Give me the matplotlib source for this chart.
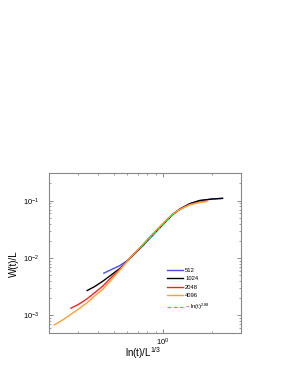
import matplotlib
matplotlib.use("Agg")
import matplotlib.pyplot as plt

plt.rcParams['font.family'] = ['Liberation Sans', 'DejaVu Sans']
plt.rcParams['mathtext.fontset'] = 'custom'
plt.rcParams['mathtext.rm'] = 'Liberation Sans'
plt.rcParams['mathtext.it'] = 'Liberation Sans'

# data (x = ln(t)/L^(1/3), y = W(t)/L)
x512 = [0.432, 0.48, 0.542, 0.6, 0.654, 0.754, 0.829, 0.92, 1.049, 1.15, 1.266, 1.459, 1.68, 2.0, 2.32]
y512 = [0.00547, 0.0063, 0.0074, 0.009, 0.0113, 0.0166, 0.022, 0.030, 0.0443, 0.0575, 0.0705, 0.088, 0.1, 0.107, 0.11]

x1024 = [0.341, 0.38, 0.428, 0.48, 0.542, 0.6, 0.654, 0.754, 0.829, 0.92, 1.049, 1.15, 1.266, 1.459, 1.68, 2.0, 2.32]
y1024 = [0.00272, 0.0032, 0.0040, 0.0051, 0.0066, 0.0088, 0.0114, 0.0171, 0.0228, 0.031, 0.0455, 0.058, 0.0715, 0.089, 0.101, 0.107, 0.11]

x2048 = [0.271, 0.3, 0.338, 0.38, 0.428, 0.48, 0.542, 0.6, 0.654, 0.754, 0.829, 0.92, 1.049, 1.15, 1.266, 1.459, 1.68, 1.85]
y2048 = [0.00134, 0.00155, 0.00192, 0.0025, 0.0033, 0.0046, 0.0064, 0.0088, 0.0115, 0.0173, 0.0231, 0.0315, 0.046, 0.0585, 0.071, 0.086, 0.095, 0.098]

x4096 = [0.214, 0.24, 0.267, 0.3, 0.338, 0.38, 0.428, 0.48, 0.542, 0.6, 0.654, 0.754, 0.829, 0.92, 1.049, 1.15, 1.266, 1.459, 1.68, 1.85]
y4096 = [0.000685, 0.00083, 0.00102, 0.00128, 0.00164, 0.0022, 0.0029, 0.0042, 0.0062, 0.0088, 0.0116, 0.0175, 0.0234, 0.032, 0.0465, 0.0585, 0.0705, 0.085, 0.094, 0.097]

# power-law guide ~ ln(t)^2.88
xfit = [0.72, 1.2]
yfit = [0.0150, 0.0655]

series = [
    ("512", x512, y512, "#4a4aff"),
    ("1024", x1024, y1024, "black"),
    ("2048", x2048, y2048, "#ff2020"),
    ("4096", x4096, y4096, "#ffa030"),
]

fig = plt.figure(figsize=(2.91, 3.76), dpi=100)
ax = fig.add_axes([0.170, 0.115, 0.657, 0.424])

for name, xs, ys, col in series:
    ax.plot(xs, ys, color=col, lw=1.0, label=name)
ax.plot(xfit, yfit, color="#22ee22", lw=0.9, ls=(0, (3, 2)), label=r"~ ln(t)$^{2.88}$")

ax.set_xscale('log')
ax.set_yscale('log')
ax.set_xlim(0.2, 3.0)
ax.set_ylim(5e-4, 0.3)

for s in ax.spines.values():
    s.set_color('#888888')
    s.set_linewidth(0.8)
ax.tick_params(which='both', direction='in', top=True, right=True, color='#777777', labelsize=5.5)
ax.tick_params(which='major', length=3, width=0.6)
ax.tick_params(which='minor', length=1.6, width=0.5)
ax.tick_params(axis='y', pad=7)
ax.tick_params(axis='x', pad=2.5)
ax.xaxis.set_minor_formatter(matplotlib.ticker.NullFormatter())

ax.set_xlabel(r"ln(t)/L$^{1/3}$", fontsize=7)
ax.xaxis.set_label_coords(0.49, -0.08)
ax.set_ylabel("W(t)/L", fontsize=7)
ax.yaxis.set_label_coords(-0.162, 0.435)

ax.legend(loc='upper left', bbox_to_anchor=(0.574, 0.2886), bbox_transform=fig.transFigure,
          frameon=False, fontsize=4.2, handlelength=2.75, handletextpad=0.35,
          labelspacing=0.6, borderpad=0, borderaxespad=0)

fig.savefig("out.png", dpi=100)
